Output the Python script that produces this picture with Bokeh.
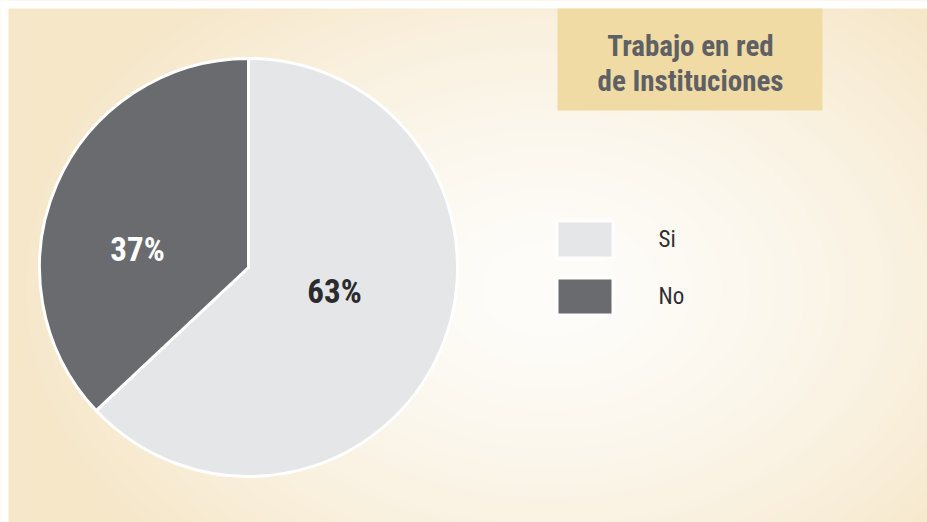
import numpy as np
from bokeh.plotting import figure
from bokeh.models import Range1d, ColumnDataSource
from bokeh.core.properties import value
from bokeh.embed import file_html
from bokeh.resources import INLINE

# ---- data ----
categories = ["Si", "No"]
percentages = [63, 37]
slice_colors = ["#e5e6e8", "#6a6b6f"]
label_texts = ["63%", "37%"]
label_colors = ["#2b2b2d", "#ffffff"]
title_lines = ["Trabajo en red", "de Instituciones"]

W, H = 919, 514   # beige panel size
M = 8             # white margin at top / left
FONT = "Liberation Sans Narrow, Roboto Condensed, Arial Narrow, Roboto, sans-serif"
EDGE = "#f6e7c9"

p = figure(width=W + M, height=H + M,
           x_range=Range1d(-M, W), y_range=Range1d(0, H + M),
           output_backend="svg", toolbar_location=None, min_border=0)
p.axis.visible = False
p.grid.visible = False
p.outline_line_color = None
p.background_fill_color = EDGE
p.border_fill_color = EDGE

# background gradient (style only)
yy, xx = np.mgrid[0:H, 0:W]
sy = (H - 1 - yy)  # screen row from top of panel
cx, cy = 540.0, 280.0
d = np.sqrt(((xx - cx) / 540.0) ** 2 + ((sy - cy) / 380.0) ** 2)
t = np.clip(d, 0, 1) ** 1.5
c0 = np.array([254, 253, 250], dtype=float)
c1 = np.array([246, 231, 201], dtype=float)
rgb = c0[None, None, :] * (1 - t[..., None]) + c1[None, None, :] * t[..., None]
img = np.empty((H, W), dtype=np.uint32)
view = img.view(dtype=np.uint8).reshape((H, W, 4))
view[..., 0] = rgb[..., 0].astype(np.uint8)
view[..., 1] = rgb[..., 1].astype(np.uint8)
view[..., 2] = rgb[..., 2].astype(np.uint8)
view[..., 3] = 255
p.image_rgba(image=[img], x=0, y=0, dw=W, dh=H)

# white page margin (top and left)
p.quad(left=[-M - 2, -M - 2], right=[0, W + 40], bottom=[-40, H], top=[H + M + 2, H + M + 2],
       fill_color="#ffffff", line_color=None)

# ---- pie ----
pcx, pcy, R = 240, 255, 209
fr = np.array(percentages, dtype=float) / sum(percentages)
top = np.pi / 2
starts = [top - fr[0] * 2 * np.pi, top]
ends = [top, top + fr[1] * 2 * np.pi]
src = ColumnDataSource(dict(cat=categories, start=starts, end=ends, color=slice_colors))
p.wedge(x=pcx, y=pcy, radius=R, start_angle="start", end_angle="end",
        fill_color="color", line_color="#ffffff", line_width=3, source=src)

# slice labels (placement offsets relative to pie centre)
lab_dx = [86, -111]
lab_dy = [-24, 18]
p.text(x=[pcx + dx for dx in lab_dx], y=[pcy + dy for dy in lab_dy], text=label_texts,
       text_color=label_colors, text_font=value(FONT), text_font_style="bold",
       text_font_size="33px", text_align="center", text_baseline="middle")

# ---- title box ----
p.quad(left=549, right=814, top=H, bottom=H - 102, fill_color="#f0dba4", line_color=None)
p.text(x=[682, 682], y=[H - 37, H - 72], text=title_lines, text_color="#5f6064",
       text_font=value(FONT), text_font_style="bold", text_font_size="29px",
       text_align="center", text_baseline="middle")

# ---- legend ----
leg_x = 576.5
leg_y = [H - (239 - 8), H - (296 - 8)]
p.rect(x=[leg_x] * 2, y=leg_y, width=61, height=42, fill_color="#ffffff",
       fill_alpha=0.55, line_color=None)
p.rect(x=[leg_x] * 2, y=leg_y, width=53, height=34, fill_color=slice_colors,
       line_color=None)
p.text(x=[650] * 2, y=leg_y, text=categories, text_color="#2f2f31",
       text_font=value(FONT), text_font_size="23px", text_align="left",
       text_baseline="middle")

open("out.html", "w").write(file_html(p, INLINE))
